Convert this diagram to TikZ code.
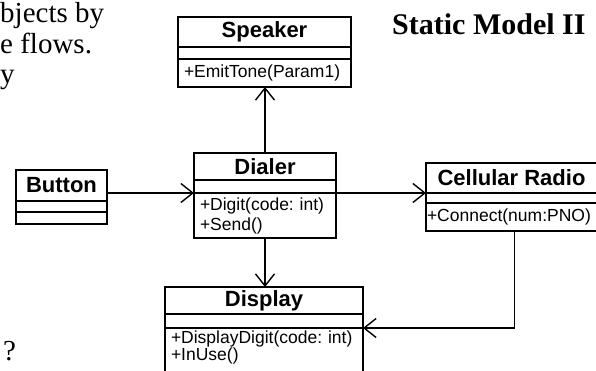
\documentclass[tikz,border=0pt]{standalone}
\usepackage{fontspec}
\setmainfont{Liberation Serif}
\newfontfamily\umlfont{Liberation Sans}
\usetikzlibrary{positioning,arrows.meta}
\tikzstyle{cname} = [draw, rectangle, line width=1.6pt, outer sep=0pt, inner sep=0pt, anchor=north west, font=\umlfont\bfseries\fontsize{22}{24}\selectfont]
\tikzstyle{cattr} = [draw, rectangle, line width=1.6pt, outer sep=0pt, inner sep=0pt]
\tikzstyle{cops} = [draw, rectangle, line width=1.6pt, outer sep=0pt, inner xsep=6pt, inner ysep=2pt, align=left, font=\umlfont\frenchspacing\fontsize{17.5}{19}\selectfont]
\tikzstyle{assoc} = [-{Straight Barb[length=12pt,width=19pt]}, line width=1.4pt]
\tikzstyle{slide} = [anchor=base west, inner sep=0pt, font=\fontsize{29}{31}\selectfont]

\begin{document}
\begin{tikzpicture}[x=1pt, y=-1pt]
	\path[use as bounding box, clip] (0,0) rectangle (596,370);
	% slide text around the diagram
	\node (t1) [slide] at (0,22) {bjects by};
	\node (t2) [slide] at (0,53) {e flows.};
	\node (t3) [slide] at (0,83) {y};
	\node (t4) [slide] at (3,360) {?};
	\node (title) [slide, font=\bfseries\fontsize{30}{32}\selectfont] at (392,34) {Static Model II};
	% classes
	\node (sname) [cname, minimum width=173pt, minimum height=30pt] at (178,17) {Speaker};
	\node (sattr) [cattr, below=0pt of sname, minimum width=173pt, minimum height=12pt] {};
	\node (sops) [cops, below=0pt of sattr, text width=161pt, minimum height=28pt] {+EmitTone(Param1)};
	\node (bname) [cname, minimum width=91pt, minimum height=31pt] at (16,170) {Button};
	\node (battr) [cattr, below=0pt of bname, minimum width=91pt, minimum height=11pt] {};
	\node (bops) [cattr, below=0pt of battr, minimum width=91pt, minimum height=12pt] {};
	\node (dname) [cname, minimum width=142pt, minimum height=27pt] at (194,153) {Dialer};
	\node (dattr) [cattr, below=0pt of dname, minimum width=142pt, minimum height=13pt] {};
	\node (dops) [cops, below=0pt of dattr, text width=130pt, minimum height=45pt, font=\umlfont\frenchspacing\fontsize{17.5}{20}\selectfont] {+Digit(code: int)\\+Send()};
	\node (rname) [cname, minimum width=171pt, minimum height=30pt] at (426,163) {Cellular Radio};
	\node (rattr) [cattr, below=0pt of rname, minimum width=171pt, minimum height=10pt] {};
	\node (rops) [cops, below=0pt of rattr, inner xsep=1pt, text width=169pt, minimum height=28pt] {+Connect(num:PNO)};
	\node (pname) [cname, minimum width=198pt, minimum height=27pt] at (165,287) {Display};
	\node (pattr) [cattr, below=0pt of pname, minimum width=198pt, minimum height=14pt] {};
	\node (pops) [cops, below=0pt of pattr, inner ysep=3pt, text width=186pt, text depth=30pt, font=\umlfont\frenchspacing\fontsize{17.5}{17}\selectfont] {+DisplayDigit(code: int)\\+InUse()};
	% associations
	\draw [assoc] (bname.east |- dattr.south) -- (dattr.south west);
	\draw [assoc] (dattr.south east) -- (rname.south west);
	\draw [assoc] (dname.north) -- (dname.north |- sops.south);
	\draw [assoc] (dops.south) -- (dops.south |- pname.north);
	\draw [assoc] ([xshift=3pt]rops.south) |- (pattr.south east);
\end{tikzpicture}
\end{document}
